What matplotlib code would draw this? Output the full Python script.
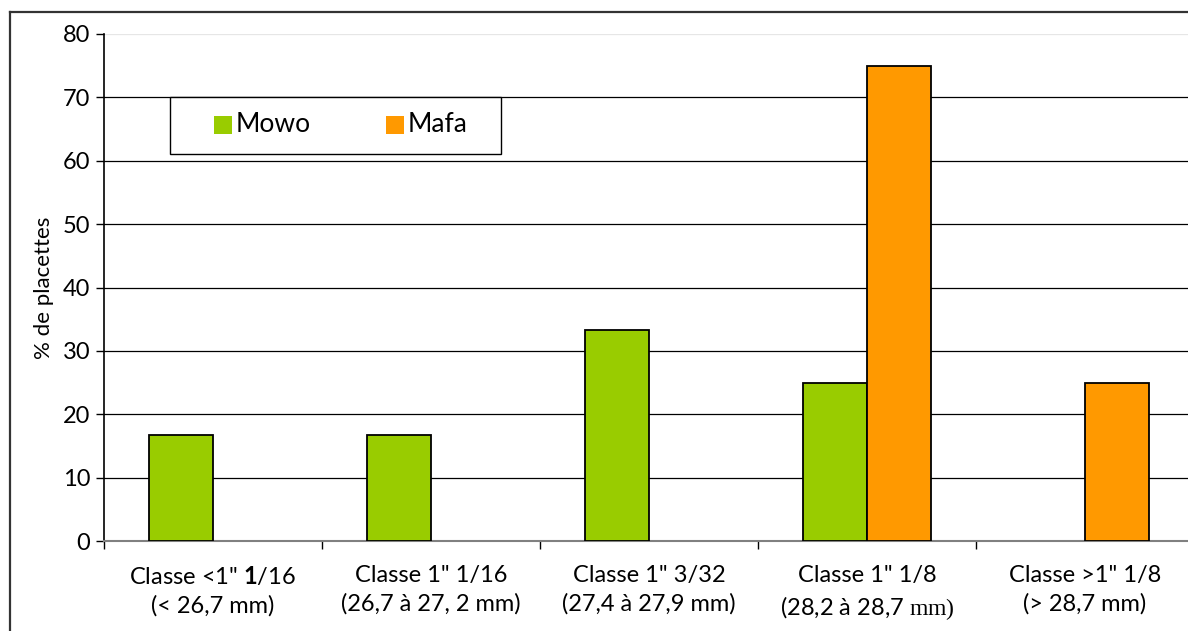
import matplotlib
matplotlib.use("Agg")
import matplotlib.pyplot as plt
import numpy as np
from matplotlib.patches import Rectangle
from matplotlib.lines import Line2D

categories = [
    'Classe <1" $\\mathbf{1}$/16\n(< 26,7 mm)',
    'Classe 1" 1/16\n(26,7 à 27, 2 mm)',
    'Classe 1" 3/32\n(27,4 à 27,9 mm)',
    'Classe 1" 1/8\n(28,2 à 28,7 $\\mathtt{mm)}$',
    'Classe >1" 1/8\n(> 28,7 mm)',
]
mowo = [16.7, 16.7, 33.3, 25, 0]
mafa = [0, 0, 0, 75, 25]
series_names = ["Mowo", "Mafa"]
colors = ["#99CC00", "#FF9900"]
yticks = [0, 10, 20, 30, 40, 50, 60, 70, 80]

plt.rcParams['font.family'] = ['Lato', 'DejaVu Sans']
plt.rcParams['mathtext.fontset'] = 'custom'
plt.rcParams['mathtext.rm'] = 'Lato'
plt.rcParams['mathtext.bf'] = 'Lato:bold'
plt.rcParams['mathtext.tt'] = 'Liberation Serif'

W, H = 1188, 631
fig = plt.figure(figsize=(W/100, H/100), dpi=100)
ax = fig.add_axes([104/W, 1-541/H, (1194-104)/W, (541-34)/H])

x = np.arange(len(categories))
bw = 0.292
for vals, off, col in [(mowo, -bw/2, colors[0]), (mafa, bw/2, colors[1])]:
    vals = np.array(vals, dtype=float)
    m = vals > 0
    ax.bar(x[m] + off, vals[m], bw, color=col, edgecolor='black', linewidth=1.3, zorder=3)

ax.set_xlim(-0.5, len(categories)-0.5)
ax.set_ylim(0, 80)
ax.set_yticks(yticks)
ax.set_yticklabels([str(v) for v in yticks], fontsize=17)
for v in yticks[1:]:
    ax.axhline(v, color='#e6e6e6' if v == 80 else 'black', linewidth=0.9, zorder=1)

ax.set_xticks(x)
ax.set_xticklabels(categories, fontsize=17, linespacing=1.42)
ax.tick_params(axis='x', which='major', length=0, pad=17)
ax.set_xticks(np.arange(-0.5, len(categories)), minor=True)
ax.tick_params(axis='x', which='minor', length=6, color='black', width=1)
ax.tick_params(axis='y', length=6, width=1, color='black', pad=4)

for s in ['top', 'right']:
    ax.spines[s].set_visible(False)
ax.spines['left'].set_color('black')
ax.spines['left'].set_linewidth(1.2)
ax.spines['bottom'].set_color('#808080')
ax.spines['bottom'].set_linewidth(1.5)

ax.set_ylabel('% de placettes', fontsize=16, labelpad=6)

# legend (drawn as a boxed key)
def fx(px):
    return px / W
def fy(py):
    return 1 - py / H

fig.add_artist(Rectangle((fx(170), fy(154)), fx(501) - fx(170), fy(97) - fy(154),
                         transform=fig.transFigure, facecolor='white',
                         edgecolor='black', linewidth=1.0, zorder=5))
for name, col, sx in zip(series_names, colors, [214, 386]):
    fig.add_artist(Rectangle((fx(sx), fy(134)), fx(18), 18 / H,
                             transform=fig.transFigure, facecolor=col,
                             edgecolor='none', zorder=6))
    fig.text(fx(sx + 22), fy(124), name, fontsize=19, va='center', ha='left', zorder=6)

# outer border
fig.add_artist(Line2D([10/W, 10/W], [0, 1-12/H], color='#333333', linewidth=1.6))
fig.add_artist(Line2D([10/W, 1], [1-12/H, 1-12/H], color='#333333', linewidth=1.6))

fig.savefig('out.png', dpi=100)
